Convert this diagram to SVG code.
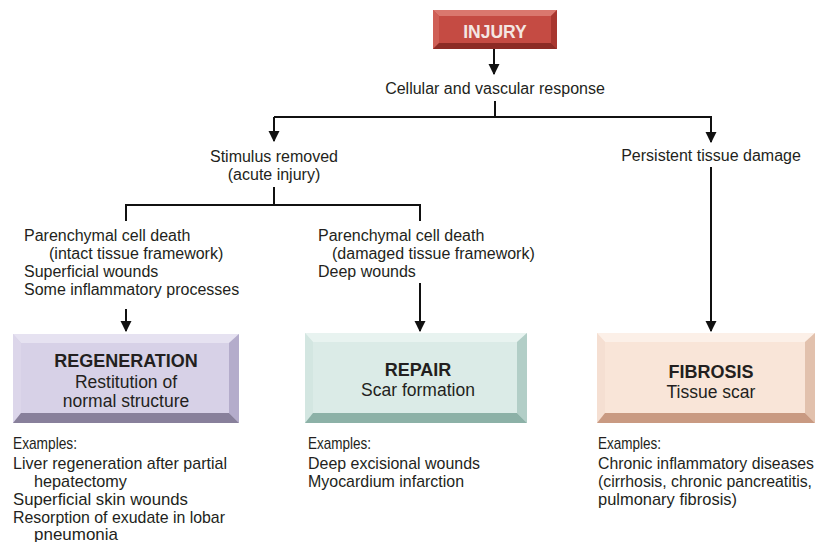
<svg xmlns="http://www.w3.org/2000/svg" width="819" height="542" viewBox="0 0 819 542">
  <style>
    .t { font-family: "Liberation Sans", Arial, sans-serif; font-size: 16px; fill: #231f20; }
    .ex { font-family: "Liberation Sans", Arial, sans-serif; font-size: 17px; fill: #231f20; }
    .ex-r { font-size: 16px; }
    .title { font-family: "Liberation Sans", Arial, sans-serif; font-size: 18px; font-weight: bold; fill: #231f20; text-anchor: middle; }
    .sub { font-family: "Liberation Sans", Arial, sans-serif; font-size: 17.5px; fill: #231f20; text-anchor: middle; }
    .mid { text-anchor: middle; }
    .wire { stroke: #111; stroke-width: 2; fill: none; }
  </style>
  <defs>
    <marker id="arrow" viewBox="0 0 10 10" refX="9" refY="5" markerWidth="5.5" markerHeight="6" markerUnits="strokeWidth" orient="auto">
      <path d="M0,0 L10,5 L0,10 z" fill="#111"/>
    </marker>
  </defs>
  <rect width="819" height="542" fill="#ffffff"/>

  <!-- connectors -->
  <g id="connectors">
    <line class="wire" x1="494" y1="49" x2="494" y2="74" marker-end="url(#arrow)"/>
    <line class="wire" x1="495" y1="101" x2="495" y2="117"/>
    <polyline class="wire" points="274,117 711,117 711,142" marker-end="url(#arrow)"/>
    <line class="wire" x1="274" y1="117" x2="274" y2="141" marker-end="url(#arrow)"/>
    <line class="wire" x1="274" y1="187" x2="274" y2="205"/>
    <polyline class="wire" points="126,221 126,205 420,205 420,221"/>
    <line class="wire" x1="126" y1="309" x2="126" y2="331" marker-end="url(#arrow)"/>
    <line class="wire" x1="420" y1="283" x2="420" y2="331" marker-end="url(#arrow)"/>
    <line class="wire" x1="711" y1="167" x2="711" y2="331" marker-end="url(#arrow)"/>
  </g>

  <!-- INJURY -->
  <g id="injury">
    <rect x="433" y="10" width="124" height="39" fill="#c54b43"/>
    <polygon points="433,10 557,10 551,16 439,16" fill="#da776e"/>
    <polygon points="433,10 439,16 439,43 433,49" fill="#cf5f56"/>
    <polygon points="557,10 557,49 551,43 551,16" fill="#a8362f"/>
    <polygon points="433,49 439,43 551,43 557,49" fill="#8c2b25"/>
    <text x="495" y="38" style="font-family:'Liberation Sans',Arial,sans-serif;font-size:17.5px;font-weight:bold;fill:#f4e6e2" text-anchor="middle">INJURY</text>
  </g>

  <g id="response">
    <text class="t mid" x="495" y="94">Cellular and vascular response</text>
  </g>

  <g id="stimulus-removed">
    <text class="t mid" x="274" y="162">Stimulus removed</text>
    <text class="t mid" x="274" y="180">(acute injury)</text>
  </g>

  <g id="persistent">
    <text class="t mid" x="711" y="161">Persistent tissue damage</text>
  </g>

  <g id="intact-framework">
    <text class="t" x="24" y="241">Parenchymal cell death</text>
    <text class="t" x="49" y="259">(intact tissue framework)</text>
    <text class="t" x="24" y="277">Superficial wounds</text>
    <text class="t" x="24" y="295">Some inflammatory processes</text>
  </g>

  <g id="damaged-framework">
    <text class="t" x="318" y="241">Parenchymal cell death</text>
    <text class="t" x="332" y="259">(damaged tissue framework)</text>
    <text class="t" x="318" y="277">Deep wounds</text>
  </g>

  <!-- REGENERATION -->
  <g id="regeneration">
    <rect x="13" y="334" width="226" height="89" fill="#d7d1e7"/>
    <polygon points="13,334 239,334 229,343 21,343" fill="#e6e2f1"/>
    <polygon points="13,334 21,343 21,413 13,423" fill="#dcd6ea"/>
    <polygon points="239,334 239,423 229,413 229,343" fill="#b4accb"/>
    <polygon points="13,423 21,413 229,413 239,423" fill="#88809b"/>
    <text class="title" x="126" y="367">REGENERATION</text>
    <text class="sub" x="126" y="388">Restitution of</text>
    <text class="sub" x="126" y="407">normal structure</text>
  </g>

  <!-- REPAIR -->
  <g id="repair">
    <rect x="305" y="333" width="222" height="90" fill="#dbebe7"/>
    <polygon points="305,333 527,333 517,342 313,342" fill="#e8f3f0"/>
    <polygon points="305,333 313,342 313,413 305,423" fill="#d3e6e1"/>
    <polygon points="527,333 527,423 517,413 517,342" fill="#b2cec7"/>
    <polygon points="305,423 313,413 517,413 527,423" fill="#8cb1a7"/>
    <text class="title" x="418" y="376">REPAIR</text>
    <text class="sub" x="418" y="396">Scar formation</text>
  </g>

  <!-- FIBROSIS -->
  <g id="fibrosis">
    <rect x="597" y="333" width="218" height="90" fill="#f9e5d8"/>
    <polygon points="597,333 815,333 805,342 605,342" fill="#fcf0e8"/>
    <polygon points="597,333 605,342 605,413 597,423" fill="#f5dfd2"/>
    <polygon points="815,333 815,423 805,413 805,342" fill="#e2c1ad"/>
    <polygon points="597,423 605,413 805,413 815,423" fill="#c99a82"/>
    <text class="title" x="711" y="378">FIBROSIS</text>
    <text class="sub" x="711" y="398">Tissue scar</text>
  </g>

  <!-- examples -->
  <g id="regeneration-examples">
    <text class="ex" x="13" y="449" textLength="64" lengthAdjust="spacingAndGlyphs">Examples:</text>
    <text class="ex" x="13" y="469" textLength="214" lengthAdjust="spacingAndGlyphs">Liver regeneration after partial</text>
    <text class="ex" x="34" y="487" textLength="93" lengthAdjust="spacingAndGlyphs">hepatectomy</text>
    <text class="ex" x="13" y="505" textLength="175" lengthAdjust="spacingAndGlyphs">Superficial skin wounds</text>
    <text class="ex" x="13" y="523" textLength="212" lengthAdjust="spacingAndGlyphs">Resorption of exudate in lobar</text>
    <text class="ex" x="34" y="540" textLength="84" lengthAdjust="spacingAndGlyphs">pneumonia</text>
  </g>

  <g id="repair-examples">
    <text class="ex" x="308" y="449" textLength="63" lengthAdjust="spacingAndGlyphs">Examples:</text>
    <text class="ex" x="308" y="469" textLength="172" lengthAdjust="spacingAndGlyphs">Deep excisional wounds</text>
    <text class="ex" x="308" y="487" textLength="156" lengthAdjust="spacingAndGlyphs">Myocardium infarction</text>
  </g>

  <g id="fibrosis-examples">
    <text class="ex" x="598" y="449" textLength="63" lengthAdjust="spacingAndGlyphs">Examples:</text>
    <text class="ex ex-r" x="598" y="469" textLength="216" lengthAdjust="spacingAndGlyphs">Chronic inflammatory diseases</text>
    <text class="ex ex-r" x="598" y="487" textLength="214" lengthAdjust="spacingAndGlyphs">(cirrhosis, chronic pancreatitis,</text>
    <text class="ex" x="598" y="505" textLength="139" lengthAdjust="spacingAndGlyphs">pulmonary fibrosis)</text>
  </g>
</svg>
